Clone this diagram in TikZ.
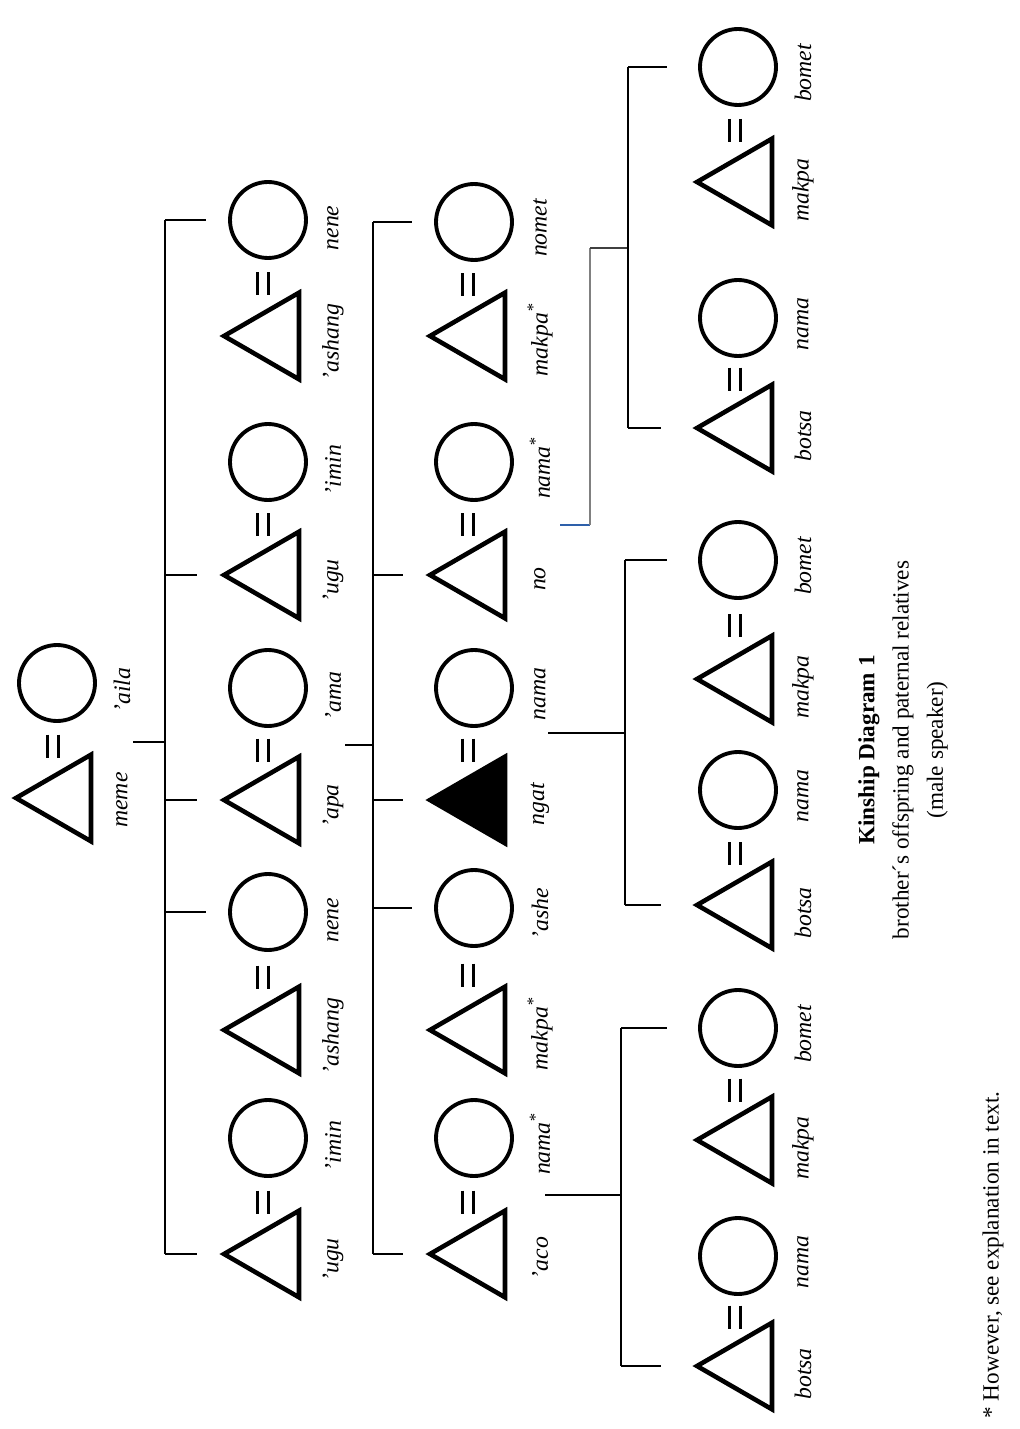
\documentclass[tikz,border=0pt]{standalone}
\usepackage{fontspec}
\setmainfont{Liberation Serif}
\usetikzlibrary{shapes.geometric,calc}
\definecolor{linkBlue}{RGB}{46,96,170}

\tikzset{
  tri/.style={draw, regular polygon, regular polygon sides=3, shape border rotate=90,
              minimum size=2cm, inner sep=0pt, line width=2.6pt},
  ring/.style={draw, circle, minimum size=1.52cm, inner sep=0pt, line width=2.2pt},
  eqs/.style={inner sep=0pt, minimum width=0.5cm, minimum height=0.7cm,
              path picture={\draw[line width=1.6pt]
                ($(path picture bounding box.center)+(-5.5,-11.5)$) -- ++(0,23)
                ($(path picture bounding box.center)+(5.5,-11.5)$) -- ++(0,23);}},
  kin/.style={rotate=90, font=\fontsize{13.5}{16}\selectfont\itshape},
  link/.style={line width=1.1pt},
  tick/.style={link, shorten >=0.45cm},
  tickfar/.style={link, shorten >=0.62cm}
}

\begin{document}
\begin{tikzpicture}[x=0.02cm, y=-0.02cm]
  \useasboundingbox (0,0) rectangle (1020,1429);

  % Generation 1
  \node[tri] (tMeme) at (66,798) {};
  \node[ring] (cAila) at (57,683) {};
  \node[eqs] (eMeme) at (53,746) {};
  \node[kin] (lMeme) at (122,800) {meme};
  \node[kin] (lAila) at (122,690) {’aila};

  % Generation 2
  \foreach \n/\ty/\cy/\tl/\cl in {a/1254/1138/’ugu/’imin, b/1030/912/’ashang/nene,
      c/800/688/’apa/’ama, d/575/462/’ugu/’imin, e/336/220/’ashang/nene} {
    \node[tri] (t2\n) at (274,\ty) {};
    \node[ring] (c2\n) at (268,\cy) {};
    \node[eqs] (e2\n) at (263,{(\ty+\cy)/2+6}) {};
    \node[kin] (lt2\n) at (333,\ty+6) {\tl};
    \node[kin] (lc2\n) at (333,\cy+8) {\cl};
  }

  % Generation 3
  \foreach \n/\ty/\cy/\tl/\cl/\f in {a/1254/1138/’aco/nama\textsuperscript{*}/none,
      b/1030/908/makpa\textsuperscript{*}/’ashe/none, c/800/688/ngat/nama/black,
      d/575/462/no/nama\textsuperscript{*}/none, e/336/222/makpa\textsuperscript{*}/nomet/none} {
    \node[tri, fill=\f] (t3\n) at (480,\ty) {};
    \node[ring] (c3\n) at (474,\cy) {};
    \node[eqs] (e3\n) at (468,{(\ty+\cy)/2+6}) {};
    \node[kin] (lt3\n) at (540,\ty+4) {\tl};
    \node[kin] (lc3\n) at (540,\cy+6) {\cl};
  }

  % Generation 4
  \foreach \n/\ty/\cy/\tl/\cl in {A1/1366/1256/botsa/nama, A2/1140/1028/makpa/bomet,
      B1/905/790/botsa/nama, B2/679/560/makpa/bomet,
      C1/428/318/botsa/nama, C2/182/67/makpa/bomet} {
    \node[tri] (t4\n) at (747,\ty) {};
    \node[ring] (c4\n) at (738,\cy) {};
    \node[eqs] (e4\n) at (735,{(\ty+\cy)/2+6}) {};
    \node[kin] (lt4\n) at (803,\ty+8) {\tl};
    \node[kin] (lc4\n) at (803,\cy+6) {\cl};
  }

  % Descent lines
  \coordinate (d1) at (133,742);
  \coordinate (k1) at (165,742);
  \draw[link] (d1) -- (k1);
  \draw[link] (k1 |- c2e.west) -- (k1 |- t2a.west);
  \foreach \m in {c2e, t2d, t2c, c2b, t2a}
    \draw[tick] (k1 |- \m.west) -- (\m.west);

  \coordinate (d2) at (345,745);
  \coordinate (k2) at (373,745);
  \draw[link] (d2) -- (k2);
  \draw[link] (k2 |- c3e.west) -- (k2 |- t3a.west);
  \foreach \m in {c3e, t3d, t3c, c3b, t3a}
    \draw[tick] (k2 |- \m.west) -- (\m.west);

  \coordinate (d3a) at (545,1195);
  \coordinate (kA) at (621,1195);
  \draw[link] (d3a) -- (kA);
  \draw[link] (kA |- c4A2.west) -- (kA |- t4A1.west);
  \foreach \m in {c4A2, t4A1}
    \draw[tickfar] (kA |- \m.west) -- (\m.west);

  \coordinate (d3c) at (548,733);
  \coordinate (kB) at (625,733);
  \draw[link] (d3c) -- (kB);
  \draw[link] (kB |- c4B2.west) -- (kB |- t4B1.west);
  \foreach \m in {c4B2, t4B1}
    \draw[tickfar] (kB |- \m.west) -- (\m.west);

  \coordinate (d3d) at (560,525);
  \coordinate (g1) at (590,525);
  \coordinate (g2) at (590,248);
  \coordinate (kC) at (628,248);
  \draw[line width=1.1pt, linkBlue] (d3d) -- (g1);
  \draw[line width=0.9pt, gray] (g1) -- (g2);
  \draw[link, black!75] (g2) -- (kC);
  \draw[link] (kC |- c4C2.west) -- (kC |- t4C1.west);
  \foreach \m in {c4C2, t4C1}
    \draw[tickfar] (kC |- \m.west) -- (\m.west);

  % Caption
  \node[rotate=90, align=center, font=\fontsize{13.2}{19.5}\selectfont] (capt) at (903,750)
    {\textbf{Kinship Diagram 1}\\brother´s offspring and paternal relatives\\(male speaker)};
  \node[rotate=90, font=\fontsize{13.2}{16}\selectfont] (fnote) at (993,1255)
    {* However, see explanation in text.};
\end{tikzpicture}
\end{document}
